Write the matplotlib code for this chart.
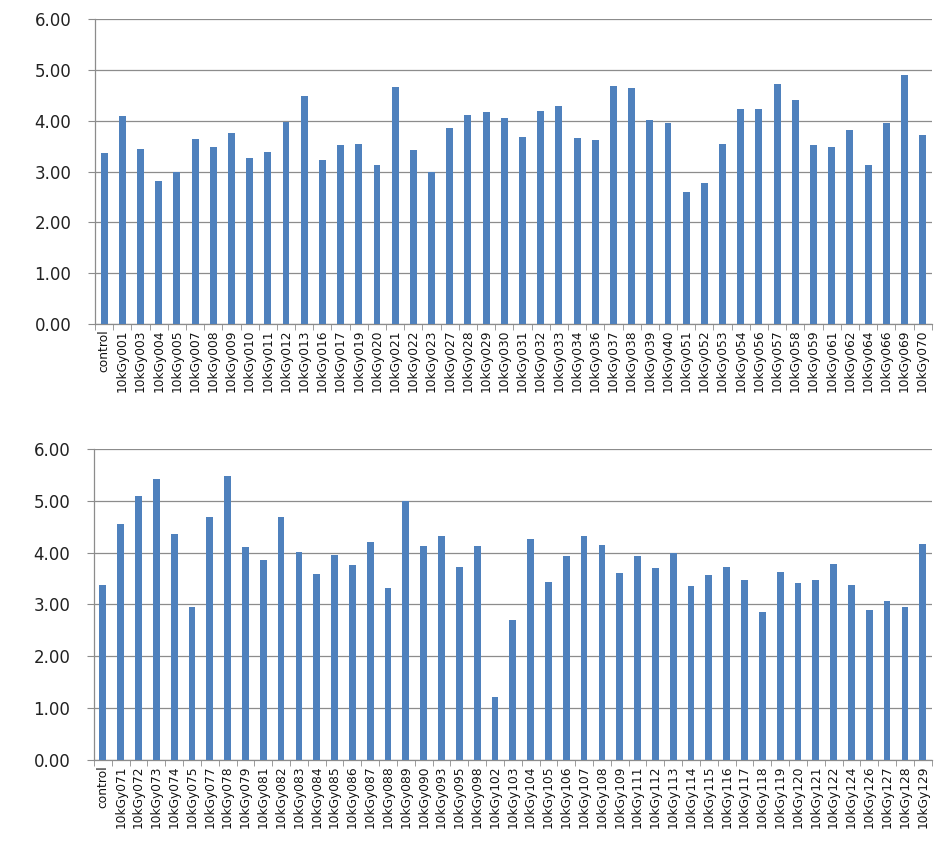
import matplotlib.pyplot as plt
import numpy as np

# top panel
labels_top = ['control'] + ['10kGy' + s for s in [
    '001', '003', '004', '005', '007', '008', '009', '010', '011', '012', '013',
    '016', '017', '019', '020', '021', '022', '023', '027', '028', '029', '030',
    '031', '032', '033', '034', '036', '037', '038', '039', '040', '051', '052',
    '053', '054', '056', '057', '058', '059', '061', '062', '064', '066', '069', '070']]
values_top = [3.37, 4.10, 3.45, 2.81, 3.00, 3.64, 3.49, 3.75, 3.26, 3.39, 3.98, 4.48,
              3.22, 3.53, 3.55, 3.13, 4.67, 3.43, 3.00, 3.86, 4.12, 4.18, 4.05,
              3.67, 4.19, 4.29, 3.66, 3.62, 4.69, 4.64, 4.02, 3.96, 2.59, 2.78,
              3.55, 4.23, 4.23, 4.72, 4.41, 3.52, 3.49, 3.81, 3.13, 3.96, 4.90, 3.72]

# bottom panel
labels_bot = ['control'] + ['10kGy' + s for s in [
    '071', '072', '073', '074', '075', '077', '078', '079', '081', '082', '083',
    '084', '085', '086', '087', '088', '089', '090', '093', '095', '098', '102',
    '103', '104', '105', '106', '107', '108', '109', '111', '112', '113', '114',
    '115', '116', '117', '118', '119', '120', '121', '122', '124', '126', '127',
    '128', '129']]
values_bot = [3.37, 4.55, 5.10, 5.42, 4.35, 2.96, 4.69, 5.47, 4.10, 3.86, 4.69, 4.01,
              3.59, 3.95, 3.76, 4.21, 3.32, 5.00, 4.13, 4.33, 3.73, 4.13, 1.22,
              2.70, 4.27, 3.44, 3.94, 4.33, 4.15, 3.61, 3.94, 3.70, 3.99, 3.36,
              3.57, 3.73, 3.48, 2.86, 3.63, 3.42, 3.48, 3.79, 3.37, 2.90, 3.07,
              2.96, 4.17]

yticks = np.arange(0, 6.01, 1.0)
bar_color = '#4F81BD'
grid_color = '#8c8c8c'

fig = plt.figure(figsize=(9.53, 8.46), dpi=100)
ax1 = fig.add_axes([0.0997, 0.617, 0.878, 0.3605])
ax2 = fig.add_axes([0.0986, 0.1017, 0.879, 0.3676])


def draw(ax, labels, values):
    n = len(values)
    x = np.arange(n)
    ax.set_axisbelow(True)
    ax.yaxis.grid(True, color=grid_color, linewidth=0.9)
    ax.bar(x, values, width=0.38, color=bar_color, zorder=3)
    ax.set_xlim(-0.5, n - 0.5)
    ax.set_ylim(0, 6)
    ax.set_yticks(yticks)
    ax.set_yticklabels(['%.2f' % v for v in yticks], fontsize=12, color='#222222')
    ax.set_xticks(x)
    ax.set_xticklabels(labels, rotation=90, fontsize=8.8, color='#111111')
    ax.set_xticks(np.arange(n + 1) - 0.5, minor=True)
    ax.tick_params(axis='x', which='major', length=0, pad=4)
    ax.tick_params(axis='x', which='minor', length=4, color=grid_color, direction='out')
    ax.tick_params(axis='y', length=5, color=grid_color, pad=12)
    for s in ['top', 'right']:
        ax.spines[s].set_visible(False)
    for s in ['left', 'bottom']:
        ax.spines[s].set_color(grid_color)
        ax.spines[s].set_linewidth(0.9)


draw(ax1, labels_top, values_top)
draw(ax2, labels_bot, values_bot)

fig.savefig('out.png', dpi=100)
